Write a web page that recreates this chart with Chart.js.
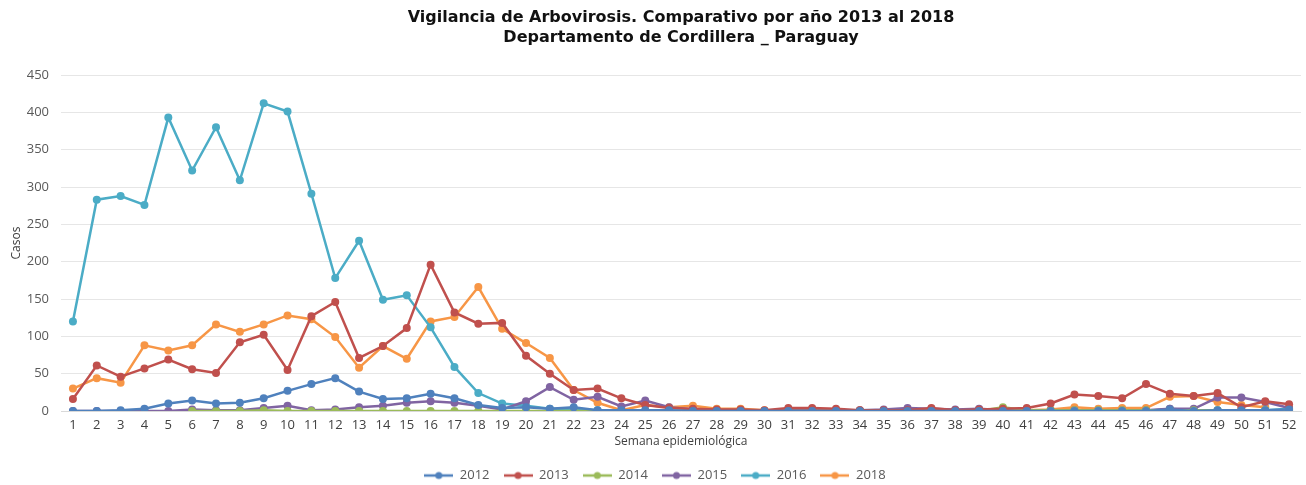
<!DOCTYPE html>
<html><head><meta charset="utf-8">
<script src="https://cdn.jsdelivr.net/npm/chart.js@4.4.1/dist/chart.umd.min.js"></script>
<style>html,body{margin:0;padding:0;background:#fff}#wrap{width:1306px;height:485px}</style>
</head><body><div id="wrap"><canvas id="c" width="1306" height="485"></canvas></div>
<script>
const weeks = Array.from({length:52},(_,i)=>String(i+1));
const yTicks = [0,50,100,150,200,250,300,350,400,450];
const seriesNames = ['2012','2013','2014','2015','2016','2018'];
const seriesColors = ['#4F81BD','#C0504D','#9BBB59','#8064A2','#4BACC6','#F79646'];

const s2012 = [0,0,1,3,10,14,10,11,17,27,36,44,26,16,17,23,17,8,4,5,3,5,1,1,1,1,0,0,0,0,0,0,0,0,0,0,0,0,0,0,0,0,0,0,0,0,2,0,1,1,1,2];
const s2013 = [16,61,46,57,69,56,51,92,102,55,127,146,71,87,111,196,132,117,118,74,50,28,30,17,8,4,3,2,2,1,4,4,3,1,1,1,4,1,2,3,4,10,22,20,17,36,23,20,24,5,13,9];
const s2014 = [null,null,null,null,null,0,0,0,1,0,0,0,0,0,0,0,0,0,0,0,0,0,0,0,0,0,0,0,0,0,0,0,0,0,0,0,0,0,0,5,1,1,1,1,1,1,1,1,1,1,1,1];
const s2015 = [0,0,0,0,0,2,1,1,4,7,1,2,5,7,11,13,11,7,2,13,32,15,19,6,14,5,2,1,1,0,1,1,0,1,2,4,3,2,3,1,1,1,1,1,1,1,3,3,18,18,12,4];
const s2016 = [120,283,288,276,393,322,380,309,412,401,291,178,228,149,155,112,59,24,10,7,3,3,1,0,0,0,0,0,0,0,0,0,0,0,0,0,0,0,0,0,0,0,0,0,0,0,3,1,1,1,1,3];
const s2018 = [30,44,38,88,81,88,116,106,116,128,123,99,58,87,70,120,126,166,110,91,71,28,11,1,8,5,7,3,3,1,1,2,1,1,1,1,1,1,2,1,1,2,5,3,4,4,19,20,12,8,5,null];
const seriesData = [s2012,s2013,s2014,s2015,s2016,s2018];

function legendIcon(color){
  const cv=document.createElement('canvas');cv.width=29;cv.height=10;
  const g=cv.getContext('2d');
  g.strokeStyle=color;g.lineWidth=2.5;g.beginPath();g.moveTo(0,5);g.lineTo(29,5);g.stroke();
  g.fillStyle=color;g.beginPath();g.arc(14.5,5,3.5,0,Math.PI*2);g.fill();
  return cv;
}

const datasets = seriesNames.map((n,i)=>({
  label:n, data:seriesData[i], borderColor:seriesColors[i], backgroundColor:seriesColors[i],
  borderWidth:2.5, pointRadius:4, pointHoverRadius:4, pointBorderWidth:0, tension:0, spanGaps:false
}));
const font = "'Open Sans', sans-serif";
new Chart(document.getElementById('c'),{
  type:'line',
  data:{labels:weeks,datasets},
  options:{
    responsive:false, animation:false,
    layout:{padding:{left:9,right:5,top:0,bottom:-7}},
    plugins:{
      title:{display:true,fullSize:false,text:['Vigilancia de Arbovirosis. Comparativo por año 2013 al 2018','Departamento de Cordillera _ Paraguay'],
        color:'#111',font:{family:"'DejaVu Sans', sans-serif",size:16,weight:'bold',lineHeight:1.25},padding:{top:8,bottom:27}},
      legend:{position:'bottom',labels:{color:'#595959',font:{family:font,size:13},boxWidth:29,boxHeight:10,pointStyleWidth:29,padding:14,usePointStyle:true,
        generateLabels:(chart)=>chart.data.datasets.map((d,i)=>({text:d.label,fillStyle:d.borderColor,strokeStyle:d.borderColor,fontColor:'#595959',pointStyle:legendIcon(d.borderColor),datasetIndex:i,lineWidth:0}))}},
      tooltip:{enabled:false}
    },
    scales:{
      x:{offset:true,grid:{display:false,drawTicks:false},border:{color:'#d9d9d9'},
        ticks:{color:'#404040',font:{family:font,size:13},maxRotation:0,autoSkip:false,padding:6},
        title:{display:true,text:'Semana epidemiológica',color:'#404040',font:{family:font,size:12},padding:{top:-4,bottom:6}}},
      y:{min:0,max:450,afterBuildTicks:(ax)=>{ax.ticks=yTicks.map(v=>({value:v}));},
        afterFit:(ax)=>{ax.width=52;},
        grid:{color:'#e6e6e6',drawTicks:false},border:{display:false},
        ticks:{color:'#595959',font:{family:font,size:13},padding:12},
        title:{display:true,text:'Casos',color:'#404040',font:{family:font,size:12},padding:{top:0,bottom:6}}}
    }
  }
});
</script></body></html>
